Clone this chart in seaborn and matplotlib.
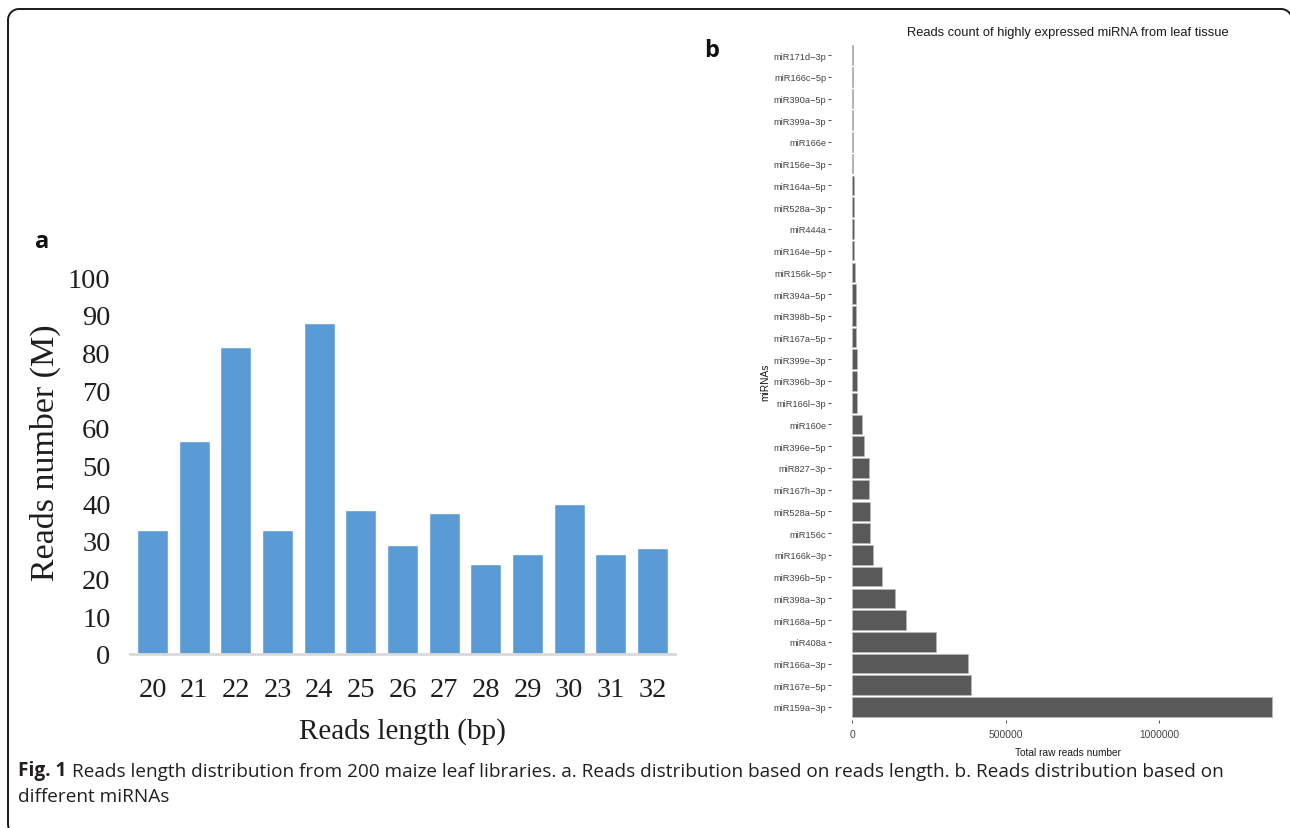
import matplotlib
matplotlib.use("Agg")
import matplotlib.pyplot as plt
import seaborn as sns
import pandas as pd
import numpy as np

# Panel a: reads per length (millions)
read_lengths = ["20", "21", "22", "23", "24", "25", "26", "27", "28", "29", "30", "31", "32"]
reads_millions = [32.8, 56.6, 81.3, 32.8, 87.7, 38.3, 28.8, 37.5, 24.0, 26.4, 39.9, 26.4, 28.0]
length_ticks = [0, 10, 20, 30, 40, 50, 60, 70, 80, 90, 100]

# Panel b: total raw reads of the most abundant miRNAs (top to bottom)
mirna_names = [
    "miR171d\u22123p", "miR166c\u22125p", "miR390a\u22125p", "miR399a\u22123p", "miR166e",
    "miR156e\u22123p", "miR164a\u22125p", "miR528a\u22123p", "miR444a", "miR164e\u22125p",
    "miR156k\u22125p", "miR394a\u22125p", "miR398b\u22125p", "miR167a\u22125p", "miR399e\u22123p",
    "miR396b\u22123p", "miR166l\u22123p", "miR160e", "miR396e\u22125p", "miR827\u22123p",
    "miR167h\u22123p", "miR528a\u22125p", "miR156c", "miR166k\u22123p", "miR396b\u22125p",
    "miR398a\u22123p", "miR168a\u22125p", "miR408a", "miR166a\u22123p", "miR167e\u22125p",
    "miR159a\u22123p",
]
mirna_reads = [
    2000, 2500, 3000, 3500, 4000,
    4500, 5000, 5500, 6000, 7000,
    9000, 13500, 14000, 14500, 15500,
    16000, 17000, 34000, 38500, 54500,
    56500, 57500, 58500, 67000, 97000,
    140000, 176500, 274500, 379000, 387000,
    1367000,
]
count_ticks = [0, 500000, 1000000]

W, H = 1290, 829
sns.set_theme(style="white")
plt.rcParams["font.family"] = ["Liberation Sans", "DejaVu Sans"]

fig = plt.figure(figsize=(W / 100, H / 100), dpi=100)


def px_axes(left, top, right, bottom):
    return fig.add_axes([left / W, 1 - bottom / H, (right - left) / W, (bottom - top) / H])


def rounded_frame(left, top, right, bottom, r, n=24):
    """Closed outline of a rounded rectangle in pixel units (y grows downward)."""
    corners = [
        (left + r, top + r, np.pi, 1.5 * np.pi),
        (right - r, top + r, 1.5 * np.pi, 2 * np.pi),
        (right - r, bottom - r, 0, 0.5 * np.pi),
        (left + r, bottom - r, 0.5 * np.pi, np.pi),
    ]
    xs, ys = [], []
    for cx, cy, t0, t1 in corners:
        t = np.linspace(t0, t1, n)
        xs.extend(cx + r * np.cos(t))
        ys.extend(cy + r * np.sin(t))
    xs.append(xs[0])
    ys.append(ys[0])
    return xs, ys


# Full-figure layer in pixel units for the frame, panel letters and caption
base = fig.add_axes([0, 0, 1, 1])
base.set_xlim(0, W)
base.set_ylim(H, 0)
base.axis("off")
base.patch.set_alpha(0)
fx, fy = rounded_frame(8, 10, 1292, 836, 11)
base.plot(fx, fy, color="#1a1a1a", lw=1.4, solid_joinstyle="round")
base.text(42, 242, "a", fontsize=17, fontweight="bold", family="Open Sans",
          ha="center", va="center", color="#111111")
base.text(712, 51, "b", fontsize=17, fontweight="bold", family="Open Sans",
          ha="center", va="center", color="#111111")

cap_kw = dict(fontsize=13.7, family="Open Sans", color="#231f20")
fig_lbl = base.text(18, 781, "Fig. 1", fontweight="bold", ha="left", va="bottom", **cap_kw)
base.annotate("Reads length distribution from 200 maize leaf libraries. a. Reads distribution "
              "based on reads length. b. Reads distribution based on",
              xy=(1, 0), xycoords=fig_lbl, xytext=(4, 0), textcoords="offset points",
              ha="left", va="bottom", **cap_kw)
base.text(18, 806, "different miRNAs", ha="left", va="bottom", **cap_kw)

# ---- Panel a ----
serif = "Liberation Serif"
ax_a = px_axes(130, 278, 675, 655)
len_df = pd.DataFrame({"length": read_lengths, "reads": reads_millions})
sns.barplot(data=len_df, x="length", y="reads", color="#5b9bd5", saturation=1,
            width=0.74, ax=ax_a)
ax_a.set_ylim(length_ticks[0], length_ticks[-1])
ax_a.set_xlim(-0.54, len(read_lengths) - 0.46)
ax_a.set_yticks(length_ticks)
ax_a.tick_params(axis="both", length=0, labelsize=20.5, labelcolor="#1e1e1e")
ax_a.tick_params(axis="y", pad=14)
ax_a.tick_params(axis="x", pad=16.5)
for lbl in ax_a.get_xticklabels() + ax_a.get_yticklabels():
    lbl.set_fontfamily(serif)
ax_a.set_xlabel("Reads length (bp)", fontsize=21, family=serif, labelpad=11, color="#1e1e1e")
ax_a.set_ylabel("Reads number (M)", fontsize=24.5, family=serif, color="#1e1e1e")
ax_a.yaxis.set_label_coords(-0.126, 0.536)
for side in ["top", "right", "left"]:
    ax_a.spines[side].set_visible(False)
ax_a.spines["bottom"].set_color("#d9d9d9")
ax_a.spines["bottom"].set_linewidth(2)
ax_a.patch.set_alpha(0)

# ---- Panel b ----
ax_b = px_axes(831, 43, 1293, 721)
mir_df = pd.DataFrame({"mirna": mirna_names, "reads": mirna_reads})
sns.barplot(data=mir_df, x="reads", y="mirna", orient="h", color="#595959", saturation=1,
            width=0.9, edgecolor="#b8b8b8", linewidth=0.5, ax=ax_b)
top = max(mirna_reads)
ax_b.set_xlim(-0.05 * top, 1.05 * top)
ax_b.set_ylim(len(mirna_names) - 0.4, -0.6)
ax_b.set_xticks(count_ticks)
ax_b.set_xticklabels([str(v) for v in count_ticks])
ax_b.tick_params(axis="both", bottom=True, left=True, length=2.2, width=0.6,
                 color="#333333", labelcolor="#444444")
ax_b.tick_params(axis="y", pad=1.2, labelsize=6.7)
ax_b.tick_params(axis="x", pad=4.5, labelsize=7.4)
sns.despine(ax=ax_b, left=True, bottom=True)
ax_b.set_title("Reads count of highly expressed miRNA from leaf tissue", fontsize=9.3,
               x=0.513, pad=5, color="#1a1a1a")
ax_b.set_xlabel("Total raw reads number", fontsize=7.3, color="#1a1a1a")
ax_b.xaxis.set_label_coords(0.513, -0.04)
ax_b.set_ylabel("miRNAs", fontsize=7.3, color="#1a1a1a")
ax_b.yaxis.set_label_coords(-0.132, 0.5)
ax_b.patch.set_alpha(0)

fig.savefig("out.png", dpi=100, facecolor="white")
